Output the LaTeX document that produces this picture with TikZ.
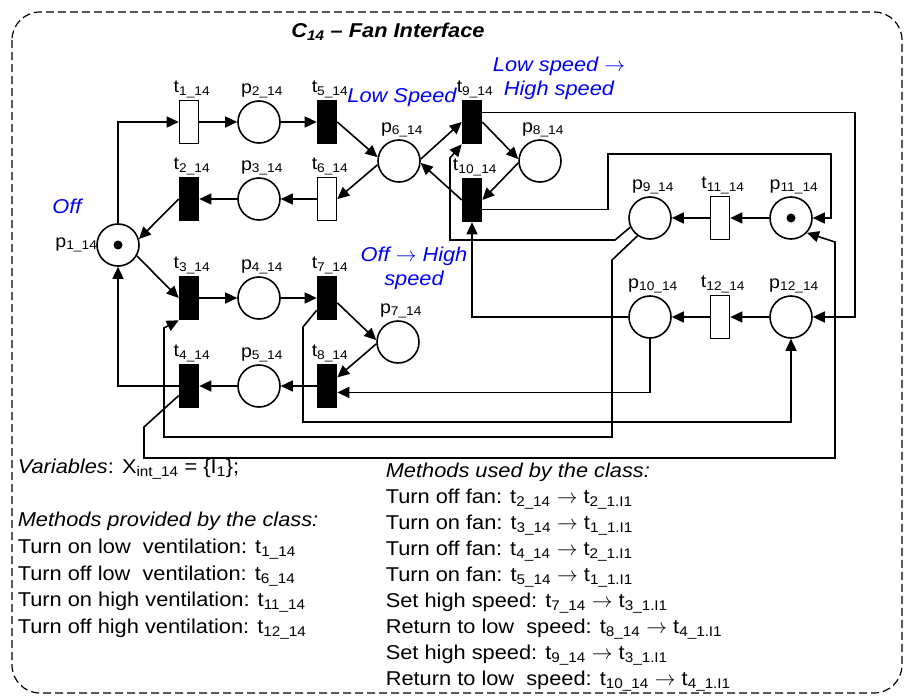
\documentclass[tikz,border=0pt]{standalone}
\usepackage{fontspec}
\setmainfont{Liberation Sans}[FakeStretch=1.09]
\usetikzlibrary{arrows.meta}

\begin{document}
\begin{tikzpicture}[x=1pt,y=-1pt,>={Triangle[length=12pt,width=11pt]},line width=1.6pt,
  font=\fontsize{20}{26}\selectfont,
  place/.style={circle,draw,minimum size=42pt,inner sep=0pt},
  trans/.style={rectangle,draw,fill=black,minimum width=19pt,minimum height=43pt,inner sep=0pt},
  transw/.style={trans,fill=white},
  every label/.style={font=\fontsize{18}{20}\selectfont,inner sep=1pt,xshift=3pt},
  note/.style={text=blue,font=\fontsize{20}{24}\selectfont\itshape,align=center},
  txt/.style={anchor=north west,inner sep=0pt,align=left}]
\useasboundingbox (0,0) rectangle (905,696);
\draw[line width=1.2pt,dash pattern=on 8pt off 4pt,rounded corners=28pt] (12,12) rectangle (902,693);
\node[font=\fontsize{20}{24}\selectfont\bfseries\itshape] (title) at (388,32) {C\textsubscript{14} \textendash{} Fan Interface};
\node[place,label={[xshift=0pt]left:p\textsubscript{1\_14}}] (p1) at (118,245) {};
\fill (p1) circle (4.5pt);
\node[transw,label=above:t\textsubscript{1\_14}] (t1) at (189,122) {};
\node[place,label=above:p\textsubscript{2\_14}] (p2) at (259,122) {};
\node[trans,label=above:t\textsubscript{5\_14}] (t5) at (327,122) {};
\node[place,label=above:p\textsubscript{6\_14}] (p6) at (399,161) {};
\node[trans,label=above:t\textsubscript{2\_14}] (t2) at (189,199) {};
\node[place,label=above:p\textsubscript{3\_14}] (p3) at (259,199) {};
\node[transw,label=above:t\textsubscript{6\_14}] (t6) at (327,199) {};
\node[trans,label=above:t\textsubscript{3\_14}] (t3) at (189,298) {};
\node[place,label=above:p\textsubscript{4\_14}] (p4) at (259,298) {};
\node[trans,label=above:t\textsubscript{7\_14}] (t7) at (327,298) {};
\node[place,label=above:p\textsubscript{7\_14}] (p7) at (398,342) {};
\node[trans,label=above:t\textsubscript{4\_14}] (t4) at (189,386) {};
\node[place,label=above:p\textsubscript{5\_14}] (p5) at (259,386) {};
\node[trans,label=above:t\textsubscript{8\_14}] (t8) at (327,386) {};
\node[trans,label=above:t\textsubscript{9\_14}] (t9) at (472,122) {};
\node[trans,label=above:t\textsubscript{10\_14}] (t10) at (472,200) {};
\node[place,label=above:p\textsubscript{8\_14}] (p8) at (540,161) {};
\node[place,label=above:p\textsubscript{9\_14}] (p9) at (650,218) {};
\node[transw,label=above:t\textsubscript{11\_14}] (t11) at (720,218) {};
\node[place,label=above:p\textsubscript{11\_14}] (p11) at (791,218) {};
\fill (p11) circle (4.5pt);
\node[place,label=above:p\textsubscript{10\_14}] (p10) at (650,317) {};
\node[transw,label=above:t\textsubscript{12\_14}] (t12) at (720,317) {};
\node[place,label=above:p\textsubscript{12\_14}] (p12) at (791,317) {};
\node[note] (off) at (67,206) {Off};
\node[note] (low) at (402,97) {Low Speed};
\node[note] (lowhigh) at (559,78) {Low speed $\rightarrow$\\High speed};
\node[note] (offhigh) at (414,268) {Off $\rightarrow$ High\\speed};
\draw[->] (p1.north) |- (t1.west);
\draw[->] (t1.east) -- (p2.west);
\draw[->] (p2.east) -- (t5.west);
\draw[->] (t5.east) -- (p6.170);
\draw[->] (p6.190) -- (t6.east);
\draw[->] (t6.west) -- (p3.east);
\draw[->] (p3.west) -- (t2.east);
\draw[->] (t2.west) -- (p1.16);
\draw[->] (p1.-30) -- (t3.west);
\draw[->] (t3.east) -- (p4.west);
\draw[->] (p4.east) -- (t7.west);
\draw[->] (t7.-25) -- (p7.175);
\draw[->] (p7.185) -- (t8.40);
\draw[->] (t8.west) -- (p5.east);
\draw[->] (p5.west) -- (t4.east);
\draw[->] (t4.west) -| (p1.south);
\draw[->] (p6.5) -- (t9.west);
\draw[->] (t10.west) -- (p6.-5);
\draw[->] (t9.east) -- (p8.175);
\draw[->] (p8.185) -- (t10.east);
\draw[->] (p11.west) -- (t11.east);
\draw[->] (t11.west) -- (p9.east);
\draw[->] (p12.west) -- (t12.east);
\draw[->] (t12.west) -- (p10.east);
\draw[->] (t9.43) -| (855,317) -- (p12.east);
\draw[->] (t10.-43) -| (608,154) -| (831,218) -- (p11.east);
\draw[->] (p9.205) -- (615,240) -- (450,240) -- (450,158) -- (t9.south west);
\draw[->] (p9.235) -- (612,260) -- (612,437) -- (164,437) -- (164,328) -- (t3.south west);
\draw[->] (p10.west) -| (t10.south);
\draw[->] (p10.south) |- (t8.-32);
\draw[->] (t7.-130) -- (303,327) -- (303,422) -| (p12.south);
\draw[->] (t4.-137) -- (144,427) -- (144,458) -- (835,458) -- (835,242) -- (p11.-43);
\node[txt,font=\fontsize{20}{26.7}\selectfont] (provided) at (17,458) {\textit{Variables}: X\textsubscript{int\_14} = \{I\textsubscript{1}\};\\[26.7pt]
\textit{Methods provided by the class:}\\
Turn on low~ ventilation: t\textsubscript{1\_14}\\
Turn off low~ ventilation: t\textsubscript{6\_14}\\
Turn on high ventilation: t\textsubscript{11\_14}\\
Turn off high ventilation: t\textsubscript{12\_14}};
\node[txt,font=\fontsize{20}{26}\selectfont] (used) at (385,462) {\textit{Methods used by the class:}\\
Turn off fan: t\textsubscript{2\_14} $\rightarrow$ t\textsubscript{2\_1.I1}\\
Turn on fan: t\textsubscript{3\_14} $\rightarrow$ t\textsubscript{1\_1.I1}\\
Turn off fan: t\textsubscript{4\_14} $\rightarrow$ t\textsubscript{2\_1.I1}\\
Turn on fan: t\textsubscript{5\_14} $\rightarrow$ t\textsubscript{1\_1.I1}\\
Set high speed: t\textsubscript{7\_14} $\rightarrow$ t\textsubscript{3\_1.I1}\\
Return to low~ speed: t\textsubscript{8\_14} $\rightarrow$ t\textsubscript{4\_1.I1}\\
Set high speed: t\textsubscript{9\_14} $\rightarrow$ t\textsubscript{3\_1.I1}\\
Return to low~ speed: t\textsubscript{10\_14} $\rightarrow$ t\textsubscript{4\_1.I1}};
\end{tikzpicture}
\end{document}
